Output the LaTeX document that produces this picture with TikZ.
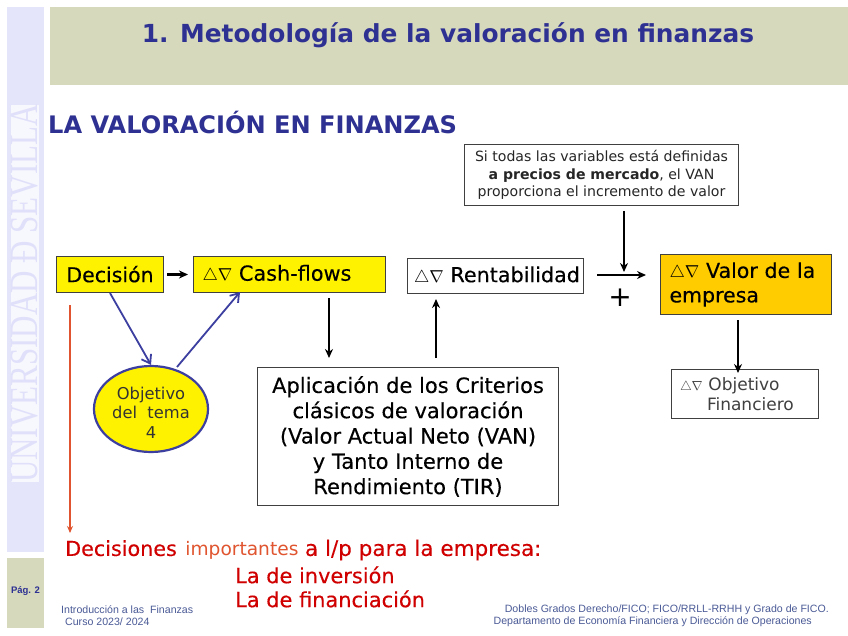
\documentclass[tikz,border=0pt]{standalone}
\usepackage{fontspec}
\setmainfont{DejaVu Sans}
\newfontfamily\arialf{Liberation Sans}
\newfontfamily\timesf{Liberation Serif}
\newfontfamily\djb[FakeBold=0.25]{DejaVu Sans}
\usetikzlibrary{shapes.geometric,arrows.meta,calc}
\definecolor{headc}{HTML}{D6D9BC}
\definecolor{lav}{HTML}{E4E4FB}
\definecolor{lavt}{HTML}{E0E0FA}
\definecolor{navy}{HTML}{2E3192}
\definecolor{bluel}{HTML}{3C3FA0}
\definecolor{redt}{HTML}{D00000}
\definecolor{redl}{HTML}{E0552F}
\definecolor{gold}{HTML}{FFCC00}
\definecolor{foot}{HTML}{4A5A96}
\newcommand{\fs}[2]{\fontsize{#1}{#2}\selectfont}
\newcommand{\dn}[1]{{\fs{#1}{#1}$\triangle\nabla$}}
\tikzset{
  x=1pt,y=-1pt,
  boxn/.style={draw=black!75,line width=1pt,inner sep=0pt,anchor=north west},
  arr/.style={black,line width=2.2pt,-{Stealth[length=9pt,width=8pt]}},
  blarr/.style={bluel,line width=1.8pt,-{Straight Barb[length=8pt,width=11pt]}},
  plain/.style={inner sep=0pt,anchor=center,align=center},
}
\begin{document}
\begin{tikzpicture}
\useasboundingbox (0,0) rectangle (848,636);
\fill[white] (0,0) rectangle (848,636);
% background bands
\fill[headc] (50,7) rectangle (848,85);
\fill[lav] (7,7) rectangle (44,552);
\fill[headc] (7,558) rectangle (44,628);
\fill[white!70!lav] (11,105) rectangle (39,482);
\node[plain,rotate=90,text=lavt] (univ) at (25,293.5) {\scalebox{0.775}[1]{\timesf\fs{40}{40}UNIVERSIDAD Ð SEVILLA}};
\node[plain,text=navy] (title) at (448,35) {\bfseries\fs{24.85}{30}1. Metodología de la valoración en finanzas};
\node[inner sep=0pt,anchor=west,text=navy] (sub) at (48,122) {\bfseries\fs{24.1}{27}LA VALORACIÓN EN FINANZAS};
\node[plain,text=navy] (pag) at (25.5,591) {\arialf\bfseries\fs{9.5}{10}Pág. 2};
% boxes
\node[boxn,fill=yellow,minimum width=107pt,minimum height=36pt,font=\djb\fs{20.5}{24}] (dec) at (56,256) {\raisebox{1pt}{Decisión}};
\node[boxn,fill=yellow,minimum width=192pt,minimum height=36pt,font=\djb\fs{20.8}{24},align=left] (cash) at (193,256) {\hspace*{6pt}\dn{16.5} Cash-flows\hspace*{31pt}};
\node[boxn,fill=white,minimum width=176pt,minimum height=35pt,font=\djb\fs{20.7}{24}] (rent) at (407,258) {\hspace*{3pt}\dn{16.5} Rentabilidad};
\node[boxn,fill=gold,minimum width=171pt,minimum height=60pt,text width=153pt,align=left,font=\djb\fs{20.5}{24.5}] (valor) at (660,254) {\dn{16.5} Valor de\ la\\empresa};
\node[boxn,fill=white,minimum width=147pt,minimum height=49pt,text width=130pt,align=left,text=black!75,font=\fs{17}{20}] (objf) at (671,369) {\scalebox{1.1}{\dn{12}} Objetivo\\\hspace*{27pt}Financiero};
\node[boxn,fill=white,minimum width=274pt,minimum height=61pt,align=center,text=black!85,font=\fs{14.1}{17.5}] (si) at (464,144) {Si todas las variables está definidas\\\textbf{a precios de mercado}, el VAN\\proporciona el incremento de valor};
\node[boxn,fill=white,minimum width=301pt,minimum height=138pt,align=center,font=\djb\fs{21}{25.3}] (apl) at (257,367) {Aplicación de los Criterios\\clásicos de valoración\\(Valor Actual Neto (VAN)\\y Tanto Interno de\\Rendimiento (TIR)};
\node[ellipse,draw=bluel,line width=2.2pt,fill=yellow,minimum width=114pt,minimum height=86pt,inner sep=0pt,text=black!80,font=\fs{16.3}{19.5}] (obj) at (151,409) {\raisebox{-10pt}[0pt][0pt]{\begin{tabular}{@{}c@{}}Objetivo\\del\ \ tema\\4\end{tabular}}};
% free ends
\coordinate (c1) at (240,292);
\coordinate (c2) at (329,298);
\coordinate (c3) at (329,358);
\coordinate (c4) at (436,358);
\coordinate (c5) at (436,299);
\coordinate (c6) at (624,211);
\coordinate (c7) at (624,272);
\coordinate (c8) at (597,275);
\coordinate (c9) at (646,275);
\coordinate (c10) at (738,320);
\coordinate (c11) at (738,373);
\coordinate (c12) at (70,305);
\coordinate (c13) at (70,533);
\coordinate (c14) at (177,367);
\draw[arr,shorten <=3pt,shorten >=5pt] (dec.east) -- (cash.west);
\draw[blarr] (dec.south) -- (obj.north);
\draw[blarr] (c14) -- (c1);
\draw[arr] (c2) -- (c3);
\draw[arr] (c4) -- (c5);
\draw[arr] (c6) -- (c7);
\draw[arr] (c8) -- (c9);
\draw[arr] (c10) -- (c11);
\draw[redl,line width=1.2pt,-{Stealth[length=7pt,width=6pt]}] (c12) -- (c13);
\node[plain,font=\fs{28}{28}] (plus) at (620,298) {+};
% red text
\node[inner sep=0pt,anchor=west,text=redt,font=\djb\fs{20.7}{24}] (t1) at (65,550) {Decisiones\hspace{2pt} {\color{redl}\normalfont\fs{18.6}{24}importantes} {\fs{21.5}{24}a l/p para la empresa:}};
\node[inner sep=0pt,anchor=west,text=redt,font=\djb\fs{20.9}{24}] (t2) at (235,575) {La de inversión};
\node[inner sep=0pt,anchor=west,text=redt,font=\djb\fs{20.9}{24}] (t3) at (235,599) {La de financiación};
% footer
\node[inner sep=0pt,anchor=west,text=foot] (f1) at (61,610) {\arialf\fs{10.6}{11}Introducción a las\ \ Finanzas};
\node[inner sep=0pt,anchor=west,text=foot] (f2) at (65,622) {\arialf\fs{10.6}{11}Curso 2023/ 2024};
\node[inner sep=0pt,anchor=east,text=foot] (f3) at (829,610) {\arialf\fs{10.6}{11}Dobles Grados Derecho/FICO; FICO/RRLL-RRHH y Grado de FICO.};
\node[inner sep=0pt,anchor=east,text=foot] (f4) at (812,622) {\arialf\fs{10.6}{11}Departamento de Economía Financiera y Dirección de Operaciones};
\end{tikzpicture}
\end{document}
